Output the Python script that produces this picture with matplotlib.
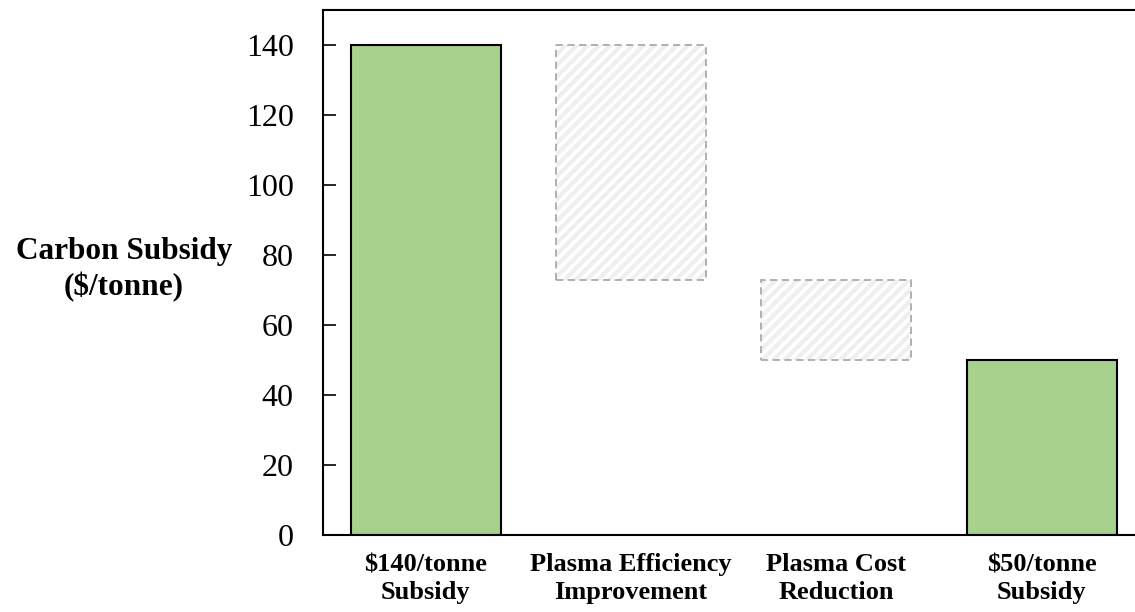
import numpy as np
import matplotlib.pyplot as plt

# --- Data ---
categories = ["$140/tonne\nSubsidy", "Plasma Efficiency\nImprovement",
              "Plasma Cost\nReduction", "$50/tonne\nSubsidy"]
start_total = 140
steps = [-67, -23]
end_total = 50

plt.rcParams["font.family"] = ["Liberation Serif", "DejaVu Serif"]
plt.rcParams["hatch.linewidth"] = 3.0

fig = plt.figure(figsize=(11.35, 6.12), dpi=100)
ax = fig.add_axes([323 / 1135, 1 - 535 / 612, 1 - 323 / 1135, 525 / 612])

x = np.arange(len(categories))
width = 0.73

# totals
ax.bar(x[0], start_total, width, color="#a9d18e", edgecolor="black", linewidth=1.5)
ax.bar(x[-1], end_total, width, color="#a9d18e", edgecolor="black", linewidth=1.5)

# floating steps: light hatch fill, then dashed outline on top
level = start_total
for i, s in enumerate(steps):
    bottom = level + s
    ax.bar(x[i + 1], -s, width, bottom=bottom, color="white", hatch="///",
           edgecolor="#efefef", linewidth=0)
    ax.bar(x[i + 1], -s, width, bottom=bottom, fill=False,
           edgecolor="#aaaaaa", linestyle=(0, (4, 2.5)), linewidth=1.3)
    level = bottom

ax.set_xlim(-0.5, 3.455)
ax.set_ylim(0, 150)
ax.set_yticks(np.arange(0, 141, 20))
ax.set_xticks(x)
ax.set_xticklabels(categories, fontsize=19, fontweight="bold", linespacing=1.3)
ax.tick_params(axis="x", length=0, pad=13)
ax.tick_params(axis="y", direction="in", length=9, width=1.2, labelsize=23, pad=21)

for side in ["left", "top", "bottom"]:
    ax.spines[side].set_linewidth(1.5)
ax.spines["right"].set_visible(False)

ax.set_ylabel("Carbon Subsidy\n($/tonne)", fontsize=22.5, fontweight="bold",
              rotation=0, ha="center", va="center", linespacing=1.25)
ax.yaxis.set_label_coords((124 - 323) / 812, (535 - 270) / 525)

fig.savefig("out.png", dpi=100)
